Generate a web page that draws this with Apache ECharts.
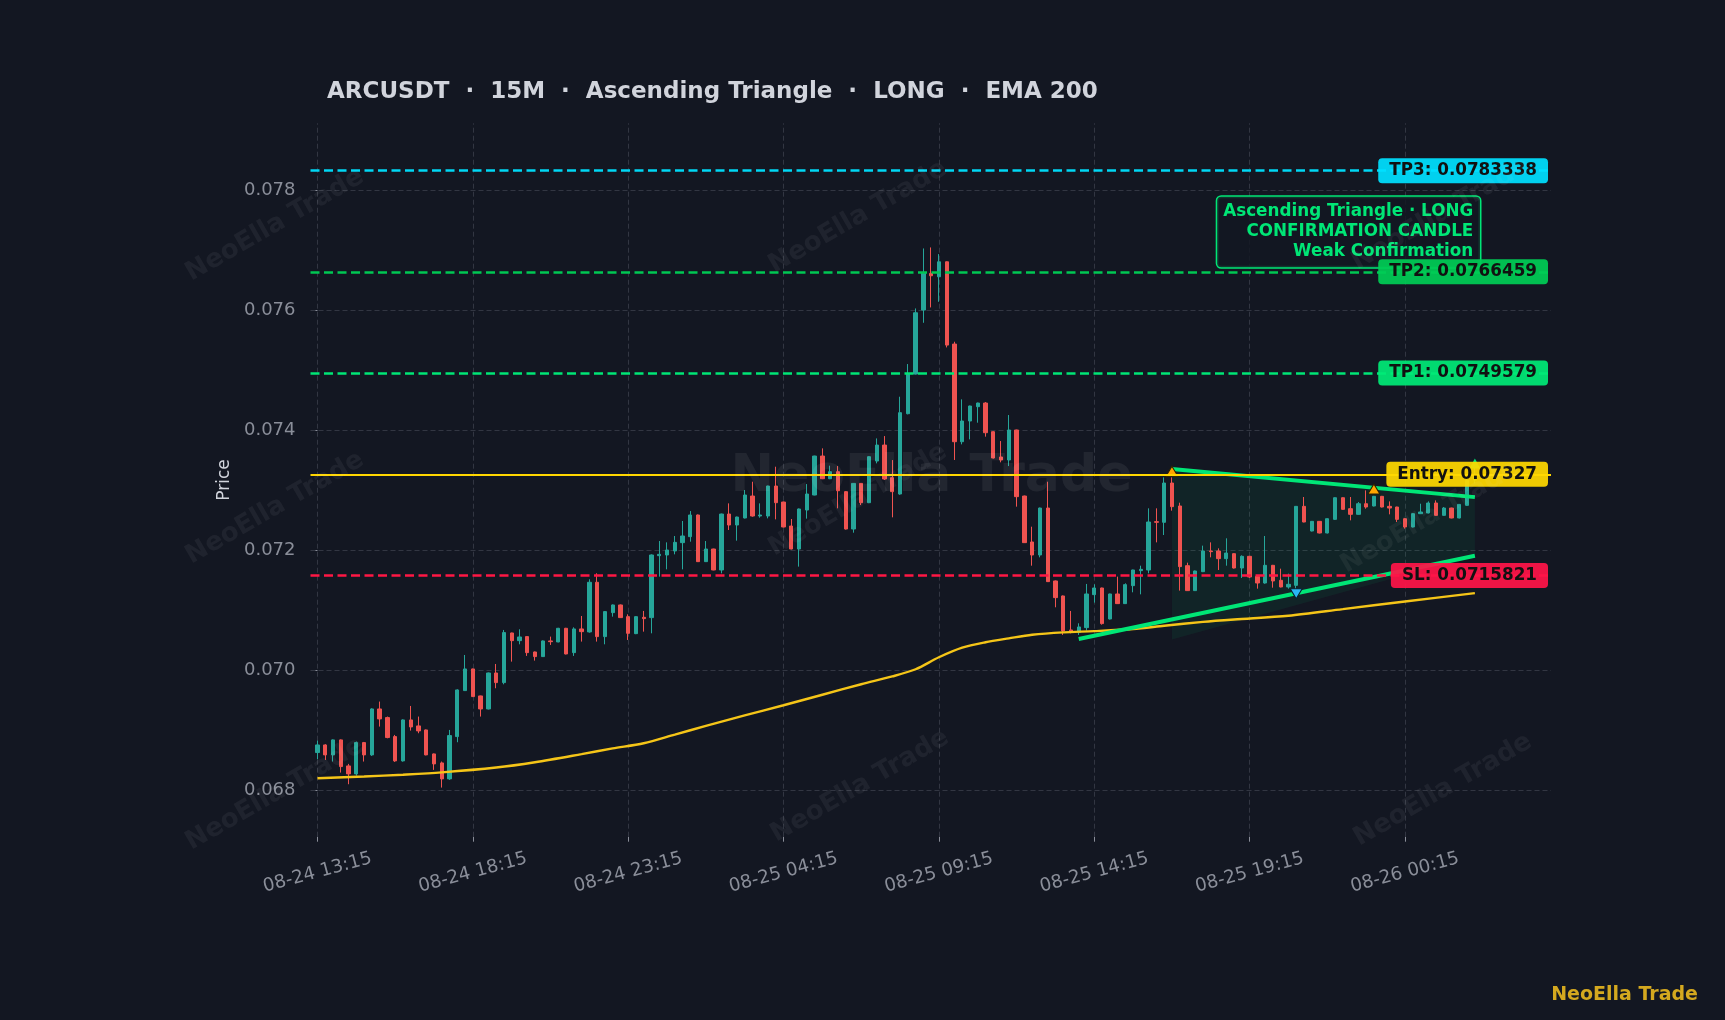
<!DOCTYPE html>
<html><head><meta charset="utf-8">
<script src="https://cdn.jsdelivr.net/npm/echarts@6/dist/echarts.min.js"></script>
<style>html,body{margin:0;padding:0;background:#131722;}#chart{width:1725px;height:1020px;}</style>
</head><body><div id="chart"></div>
<script>
const titleText = 'ARCUSDT  ·  15M  ·  Ascending Triangle  ·  LONG  ·  EMA 200';
const xTickIndex = [0, 20, 40, 60, 80, 100, 120, 140];
const xTickLabels = ['08-24 13:15', '08-24 18:15', '08-24 23:15', '08-25 04:15', '08-25 09:15', '08-25 14:15', '08-25 19:15', '08-26 00:15'];
const yTicks = [0.068, 0.070, 0.072, 0.074, 0.076, 0.078];
// [open, high, low, close]
const candles = [
[0.068631,0.068831,0.068519,0.068758],[0.068758,0.068770,0.068508,0.068592],[0.068592,0.068850,0.068481,0.068842],[0.068842,0.068850,0.068297,0.068397],
[0.068408,0.068442,0.068103,0.068275],[0.068275,0.068814,0.068247,0.068797],[0.068797,0.068808,0.068481,0.068592],[0.068592,0.069369,0.068575,0.069358],
[0.069358,0.069481,0.069064,0.069192],[0.069214,0.069231,0.068869,0.068881],[0.068897,0.068925,0.068475,0.068492],[0.068492,0.069185,0.068480,0.069175],
[0.069175,0.069408,0.068997,0.069058],[0.069075,0.069231,0.068953,0.068992],[0.069008,0.069015,0.068585,0.068592],[0.068608,0.068615,0.068342,0.068442],
[0.068458,0.068481,0.068047,0.068192],[0.068192,0.069008,0.068175,0.068914],[0.068897,0.069685,0.068803,0.069675],[0.069664,0.070258,0.069660,0.070025],
[0.070025,0.070030,0.069560,0.069564],[0.069575,0.069580,0.069231,0.069358],[0.069358,0.069965,0.069350,0.069958],[0.069958,0.070108,0.069703,0.069797],
[0.069797,0.070675,0.069769,0.070631],[0.070625,0.070630,0.070147,0.070497],[0.070497,0.070686,0.070436,0.070558],[0.070564,0.070570,0.070242,0.070297],
[0.070308,0.070315,0.070164,0.070231],[0.070231,0.070500,0.070225,0.070492],[0.070492,0.070564,0.070425,0.070480],[0.070475,0.070710,0.070470,0.070703],
[0.070703,0.070710,0.070268,0.070275],[0.070297,0.070719,0.070242,0.070692],[0.070692,0.070908,0.070481,0.070647],[0.070642,0.071520,0.070630,0.071470],
[0.071470,0.071620,0.070481,0.070564],[0.070564,0.070990,0.070436,0.070981],[0.070964,0.071100,0.070897,0.071092],[0.071092,0.071100,0.070875,0.070881],
[0.070897,0.070936,0.070508,0.070619],[0.070614,0.070905,0.070605,0.070897],[0.070886,0.070992,0.070647,0.070864],[0.070881,0.071935,0.070619,0.071925],
[0.071914,0.072158,0.071564,0.071936],[0.071925,0.072136,0.071686,0.072008],[0.071992,0.072242,0.071936,0.072136],[0.072131,0.072492,0.071686,0.072242],
[0.072231,0.072658,0.072147,0.072592],[0.072592,0.072600,0.071808,0.071814],[0.071814,0.072158,0.071808,0.072025],[0.072025,0.072030,0.071670,0.071675],
[0.071675,0.072615,0.071619,0.072608],[0.072608,0.072786,0.072342,0.072425],[0.072425,0.072565,0.072164,0.072558],[0.072542,0.073008,0.072535,0.072925],
[0.072908,0.073147,0.072564,0.072575],[0.072575,0.072786,0.072547,0.072592],[0.072575,0.073080,0.072536,0.073075],[0.073075,0.073397,0.072519,0.072797],
[0.072808,0.072815,0.072385,0.072392],[0.072408,0.072525,0.072020,0.072025],[0.072025,0.072700,0.071731,0.072692],[0.072675,0.073108,0.072531,0.072942],
[0.072925,0.073580,0.072920,0.073575],[0.073575,0.073703,0.073190,0.073197],[0.073197,0.073414,0.073190,0.073314],[0.073314,0.073408,0.072703,0.072997],
[0.072981,0.072990,0.072350,0.072358],[0.072358,0.073125,0.072297,0.073119],[0.073119,0.073125,0.072758,0.072797],[0.072797,0.073570,0.072790,0.073564],
[0.073492,0.073869,0.073453,0.073758],[0.073758,0.073908,0.073175,0.073192],[0.073214,0.073508,0.072553,0.072981],[0.072942,0.074564,0.072930,0.074298],
[0.074281,0.075109,0.074270,0.074942],[0.074942,0.076036,0.074935,0.075964],[0.076009,0.077036,0.075797,0.076636],[0.076620,0.077053,0.076053,0.076581],
[0.076564,0.076942,0.076147,0.076814],[0.076814,0.076820,0.075386,0.075425],[0.075442,0.075481,0.073509,0.073814],[0.073814,0.074520,0.073770,0.074159],
[0.074159,0.074415,0.073853,0.074409],[0.074398,0.074465,0.074131,0.074459],[0.074459,0.074475,0.073898,0.073964],[0.073981,0.073988,0.073535,0.073542],
[0.073559,0.073825,0.073470,0.073509],[0.073509,0.074259,0.073408,0.074009],[0.074009,0.074015,0.072731,0.072898],[0.072908,0.072915,0.072125,0.072131],
[0.072142,0.072397,0.071747,0.071925],[0.071925,0.072715,0.071886,0.072708],[0.072708,0.073147,0.071475,0.071481],[0.071492,0.071500,0.071053,0.071214],
[0.071242,0.071250,0.070592,0.070658],[0.070675,0.070992,0.070619,0.070636],[0.070636,0.070786,0.070592,0.070725],[0.070714,0.071442,0.070664,0.071275],
[0.071264,0.071436,0.071131,0.071375],[0.071375,0.071380,0.070764,0.070781],[0.070858,0.071280,0.070850,0.071275],[0.071275,0.071564,0.071108,0.071114],
[0.071114,0.071453,0.071108,0.071431],[0.071414,0.071680,0.071303,0.071675],[0.071664,0.071747,0.071269,0.071686],[0.071675,0.072703,0.071619,0.072475],
[0.072481,0.072703,0.072136,0.072470],[0.072470,0.073219,0.072258,0.073125],[0.073125,0.073219,0.072664,0.072731],[0.072742,0.072797,0.071331,0.071731],
[0.071747,0.071797,0.071325,0.071331],[0.071331,0.071665,0.071325,0.071658],[0.071647,0.072081,0.071640,0.071992],[0.071992,0.072136,0.071886,0.071981],
[0.071992,0.072036,0.071675,0.071864],[0.071864,0.072203,0.071747,0.071958],[0.071947,0.071955,0.071700,0.071708],[0.071708,0.071919,0.071542,0.071903],
[0.071903,0.071910,0.071542,0.071558],[0.071569,0.071575,0.071364,0.071458],[0.071458,0.072242,0.071447,0.071753],[0.071753,0.071760,0.071380,0.071492],
[0.071503,0.071697,0.071385,0.071392],[0.071392,0.071614,0.071364,0.071436],[0.071419,0.072740,0.071347,0.072736],[0.072736,0.072892,0.072470,0.072475],
[0.072325,0.072492,0.072318,0.072486],[0.072486,0.072492,0.072285,0.072292],[0.072292,0.072536,0.072285,0.072530],[0.072519,0.072886,0.072512,0.072880],
[0.072880,0.072886,0.072680,0.072686],[0.072697,0.072892,0.072503,0.072603],[0.072603,0.072808,0.072597,0.072780],[0.072780,0.073003,0.072697,0.072725],
[0.072742,0.072910,0.072736,0.072903],[0.072903,0.072910,0.072718,0.072725],[0.072736,0.072819,0.072603,0.072708],[0.072725,0.072730,0.072475,0.072519],
[0.072530,0.072536,0.072364,0.072392],[0.072392,0.072620,0.072385,0.072614],[0.072614,0.072780,0.072608,0.072642],[0.072625,0.072819,0.072619,0.072792],
[0.072792,0.072836,0.072580,0.072586],[0.072586,0.072725,0.072580,0.072708],[0.072708,0.072714,0.072536,0.072542],[0.072542,0.072775,0.072536,0.072769],
[0.072753,0.073200,0.072745,0.073169],[0.073175,0.073380,0.073120,0.073270]
];
// EMA 200 readings [index, value]
const emaPoints = [[0,0.068203],[6,0.068232],[11,0.068262],[16,0.068300],[23,0.068381],[28,0.068470],[34,0.068605],[38,0.068700],[42,0.068786],[46,0.068930],
[50,0.069075],[55,0.069250],[60,0.069420],[65,0.069595],[70,0.069770],[74,0.069900],[77,0.070020],[80,0.070220],[83,0.070380],[86,0.070470],[89,0.070535],
[92,0.070595],[96,0.070635],[100,0.070655],[105,0.070690],[109,0.070745],[114,0.070810],[118,0.070850],[125,0.070912],[132,0.071023],[140,0.071150],[149,0.071290]];
const levelNames = ['TP3', 'TP2', 'TP1', 'Entry', 'SL'];
const levelValues = [0.0783338, 0.0766459, 0.0749579, 0.07327, 0.0715821];
const upperLine = [[110, 0.073357], [149, 0.072890]];
const lowerLine = [[98, 0.070525], [149, 0.071912]];
const fillPolygon = [[110, 0.073357], [149, 0.072890], [149, 0.071912], [110, 0.070515]];
const pivotHighs = [[110, 0.073320], [136, 0.073025]];
const pivotLows = [[126, 0.071278]];
const confirmMarker = [[149, 0.073450]];
const annotationLines = ['Ascending Triangle · LONG', 'CONFIRMATION CANDLE', 'Weak Confirmation'];
const watermarkText = 'NeoElla Trade';

const FONT = '"DejaVu Sans", sans-serif';
const levelLineColors = ['#00d8f5', '#00c853', '#00e676', '#ffd600', '#ff1744'];
const levelBoxColors = ['rgba(0,224,255,0.93)', 'rgba(0,204,85,0.93)', 'rgba(0,234,118,0.93)', 'rgba(255,216,0,0.93)', 'rgba(255,20,72,0.93)'];
const gridLine = { color: '#323642', type: [5, 3], width: 1 };

const chart = echarts.init(document.getElementById('chart'), null, { renderer: 'canvas' });

const wmPos = [[275,225],[858,217],[1441,214],[275,508],[858,500],[1430,517],[275,794],[860,786],[1443,790]];
const graphics = wmPos.map(p => ({
  type: 'text', x: p[0], y: p[1], rotation: Math.PI / 6, z: 100, silent: true,
  style: { text: watermarkText, fill: 'rgba(255,255,255,0.055)', font: 'bold 26px ' + FONT, align: 'center', verticalAlign: 'middle' }
}));
graphics.push({
  type: 'text', x: 931.5, y: 477, z: 100, silent: true,
  style: { text: watermarkText, fill: 'rgba(255,255,255,0.065)', font: 'bold 52px ' + FONT, align: 'center', verticalAlign: 'middle' }
});
graphics.push({
  type: 'text', x: 1698, y: 995, z: 100, silent: true,
  style: { text: watermarkText, fill: '#d4a81f', font: 'bold 19px ' + FONT, align: 'right', verticalAlign: 'middle' }
});
graphics.push({
  type: 'text', x: 1480, y: 196.7, z: 4, silent: true,
  style: {
    text: annotationLines.join('\n'), fill: '#00e676', font: 'bold 16.8px ' + FONT,
    align: 'right', verticalAlign: 'top', lineHeight: 20,
    backgroundColor: 'rgba(19,23,34,0.85)', borderColor: '#00e676', borderWidth: 1.5, borderRadius: 4,
    padding: [5, 6.7, 5.6, 6]
  }
});

const option = {
  backgroundColor: '#131722',
  animation: false,
  title: {
    text: titleText, left: 327, top: 81, padding: 0,
    textStyle: { color: '#d1d4dc', fontSize: 23, fontWeight: 'bold', fontFamily: FONT }
  },
  grid: { left: 310.5, right: 174, top: 123.3, bottom: 183.3, containLabel: false },
  xAxis: {
    type: 'value', min: -0.9, max: 158.8,
    axisLine: { show: false },
    axisTick: { show: true, length: 5, customValues: xTickIndex, lineStyle: { color: '#8a8e99' } },
    axisLabel: {
      customValues: xTickIndex, rotate: 15, margin: 36, align: 'center', verticalAlign: 'middle',
      color: '#8a8e99', fontSize: 18.3, fontFamily: FONT,
      formatter: v => xTickLabels[xTickIndex.indexOf(Math.round(v))] || ''
    },
    splitLine: { show: false }
  },
  yAxis: {
    type: 'value', min: 0.067228, max: 0.079123,
    name: 'Price', nameLocation: 'middle', nameGap: 76,
    nameTextStyle: { color: '#d1d4dc', fontSize: 17, fontFamily: FONT },
    axisLine: { show: false },
    axisTick: { show: true, length: 5, customValues: yTicks, lineStyle: { color: '#8a8e99' } },
    axisLabel: { customValues: yTicks, margin: 15, color: '#8a8e99', fontSize: 18, fontFamily: FONT, formatter: v => v.toFixed(3) },
    splitLine: { show: false }
  },
  graphic: { elements: graphics },
  series: [
    {
      name: 'grid', type: 'line', data: [], silent: true,
      markLine: {
        silent: true, symbol: ['none', 'none'], z: 1, animation: false, precision: 8,
        label: { show: false }, lineStyle: gridLine,
        data: yTicks.map(v => ({ yAxis: v })).concat(xTickIndex.map(v => ({ xAxis: v })))
      }
    },
    {
      name: 'triangleFill', type: 'custom', z: 2, silent: true,
      data: [[fillPolygon[0][0], fillPolygon[0][1]]],
      encode: { x: 0, y: 1 },
      renderItem: (params, api) => ({
        type: 'polygon',
        shape: { points: fillPolygon.map(p => api.coord(p)) },
        style: { fill: 'rgba(0,230,118,0.065)' }
      })
    },
    {
      name: 'ARCUSDT', type: 'candlestick', z: 3,
      data: candles.map((c, i) => [i, c[0], c[3], c[2], c[1]]),
      encode: { x: 0, y: [1, 2, 3, 4] },
      barWidth: 3.8,
      itemStyle: { color: '#26a69a', color0: '#ef5350', borderColor: '#26a69a', borderColor0: '#ef5350', borderWidth: 1 }
    },
    {
      name: 'EMA 200', type: 'line', z: 4, data: emaPoints, symbol: 'none', smooth: 0.3,
      lineStyle: { color: '#f5c518', width: 2.4 }
    },
    {
      name: 'upper', type: 'line', z: 6, data: upperLine, symbol: 'none',
      lineStyle: { color: '#00e676', width: 4 }
    },
    {
      name: 'lower', type: 'line', z: 6, data: lowerLine, symbol: 'none',
      lineStyle: { color: '#00e676', width: 4 }
    },
    {
      name: 'pivotHigh', type: 'scatter', z: 7, data: pivotHighs, symbol: 'triangle', symbolSize: [12, 10],
      itemStyle: { color: '#ffa500', borderColor: '#2a1e00', borderWidth: 1, opacity: 1 }
    },
    {
      name: 'pivotLow', type: 'scatter', z: 7, data: pivotLows, symbol: 'triangle', symbolSize: [12, 10], symbolRotate: 180,
      itemStyle: { color: '#29b6f6', borderColor: '#0a1e2a', borderWidth: 1, opacity: 1 }
    },
    {
      name: 'confirm', type: 'scatter', z: 4, data: confirmMarker, symbol: 'triangle', symbolSize: [11, 10],
      itemStyle: { color: '#00e676', opacity: 1 }
    },
    {
      name: 'levels', type: 'line', data: [], silent: true, z: 8,
      markLine: {
        silent: true, symbol: ['none', 'none'], z: 8, animation: false, precision: 8,
        data: levelNames.map((n, k) => ({
          yAxis: levelValues[k],
          lineStyle: { color: levelLineColors[k], width: k === 3 ? 2.2 : 2.6, type: k === 3 ? 'solid' : [9, 4.5] },
          label: {
            show: true, position: 'insideEnd', distance: 3,
            formatter: n + ': ' + levelValues[k],
            color: '#111111', fontSize: 16.8, fontWeight: 'bold', fontFamily: FONT, lineHeight: 19,
            backgroundColor: levelBoxColors[k], padding: [3, 11, 3, 11], borderRadius: 4
          }
        }))
      }
    }
  ]
};
chart.setOption(option);
</script>
</body></html>
